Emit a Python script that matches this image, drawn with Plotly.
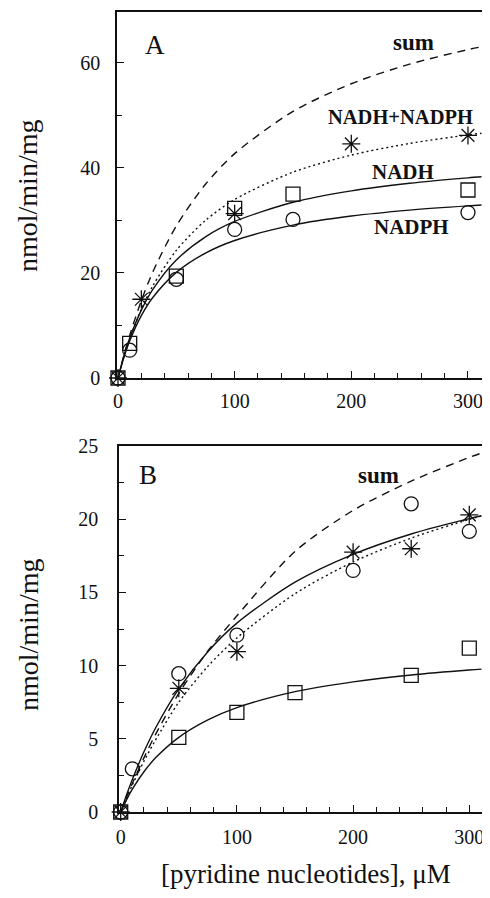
import plotly.graph_objects as go

# ---------------- data: panel A ----------------
a_nadh_x = [0, 10, 50, 100, 150, 300]
a_nadh_y = [0, 6.6, 19.4, 32.3, 35.0, 35.8]
a_nadph_x = [0, 10, 50, 100, 150, 300]
a_nadph_y = [0, 5.3, 18.8, 28.3, 30.2, 31.5]
a_both_x = [0, 20, 100, 200, 300]
a_both_y = [0, 15.0, 31.3, 44.6, 46.2]

curve_x = [0, 5, 10, 20, 30, 50, 75, 100, 150, 200, 250, 300, 320]
a_nadh_fit = [0, 4.13, 7.56, 12.92, 16.91, 22.46, 26.88, 29.81, 33.46, 35.64, 37.09, 38.12, 38.46]
a_nadph_fit = [0, 3.89, 7.05, 11.87, 15.37, 20.12, 23.79, 26.19, 29.11, 30.84, 31.97, 32.78, 33.04]
a_both_fit = [0, 3.97, 7.41, 13.11, 17.62, 24.31, 30.01, 34.0, 39.2, 42.45, 44.67, 46.29, 46.81]
a_sum_fit = [0, 4.26, 8.1, 14.73, 20.27, 28.97, 36.89, 42.73, 50.77, 56.04, 59.77, 62.54, 63.45]

# ---------------- data: panel B ----------------
b_circ_x = [0, 10, 50, 100, 200, 250, 300]
b_circ_y = [0, 2.95, 9.45, 12.08, 16.5, 21.05, 19.17]
b_star_x = [0, 50, 100, 200, 250, 300]
b_star_y = [0, 8.45, 10.95, 17.75, 17.98, 20.3]
b_sq_x = [0, 50, 100, 150, 250, 300]
b_sq_y = [0, 5.1, 6.8, 8.15, 9.33, 11.2]

b_circ_fit = [0, 1.16, 2.22, 4.11, 5.74, 8.41, 10.95, 12.9, 15.7, 17.6, 18.99, 20.04, 20.39]
b_star_fit = [0, 0.95, 1.84, 3.47, 4.92, 7.5, 9.95, 11.89, 14.91, 17.08, 18.71, 19.99, 20.42]
b_sum_fit = [0, 1.0, 1.95, 3.7, 5.3, 8.1, 11.0, 13.4, 17.8, 20.6, 22.6, 24.22, 24.78]
b_sq_fit = [0, 0.83, 1.56, 2.75, 3.70, 5.10, 6.29, 7.13, 8.22, 8.89, 9.36, 9.70, 9.81]

a_ticks = [0, 20, 40, 60]
b_ticks = [0, 5, 10, 15, 20, 25]
x_ticks = [0, 100, 200, 300]

FONT = "Liberation Serif"
BLACK = "#111111"
OFF = 8  # page body margin offset
W, H = 490 - OFF, 898 - 2 * OFF


def px(p):
    return (p - OFF) / W


def py(p):
    return 1 - (p - OFF) / H


fig = go.Figure()


def curve(x, y, xa, ya, dash):
    fig.add_trace(go.Scatter(x=x, y=y, mode="lines", xaxis=xa, yaxis=ya,
                             line=dict(color=BLACK, width=1.4, dash=dash, shape="spline", smoothing=0.8),
                             cliponaxis=True, showlegend=False, hoverinfo="skip"))


def pts(x, y, xa, ya, symbol, size):
    fig.add_trace(go.Scatter(x=x, y=y, mode="markers", xaxis=xa, yaxis=ya,
                             marker=dict(symbol=symbol, size=size, color=BLACK,
                                         line=dict(color=BLACK, width=1.3)),
                             cliponaxis=False, showlegend=False))


# panel A
curve(curve_x, a_sum_fit, "x", "y", "8px,6px")
curve(curve_x, a_both_fit, "x", "y", "2px,3px")
curve(curve_x, a_nadh_fit, "x", "y", "solid")
curve(curve_x, a_nadph_fit, "x", "y", "solid")
pts(a_nadh_x, a_nadh_y, "x", "y", "square-open", 14)
pts(a_nadph_x, a_nadph_y, "x", "y", "circle-open", 14)
pts(a_both_x, a_both_y, "x", "y", "asterisk-open", 15)

# panel B
curve(curve_x, b_sum_fit, "x2", "y2", "8px,6px")
curve(curve_x, b_star_fit, "x2", "y2", "2px,3px")
curve(curve_x, b_circ_fit, "x2", "y2", "solid")
curve(curve_x, b_sq_fit, "x2", "y2", "solid")
pts(b_sq_x, b_sq_y, "x2", "y2", "square-open", 14)
pts(b_circ_x, b_circ_y, "x2", "y2", "circle-open", 14)
pts(b_star_x, b_star_y, "x2", "y2", "asterisk-open", 15)

axis_common = dict(showline=True, linecolor=BLACK, linewidth=1.5, mirror=True,
                   ticks="inside", ticklen=7, tickwidth=1.2, tickcolor=BLACK,
                   showgrid=False, zeroline=False, automargin=False,
                   tickfont=dict(family=FONT, size=20, color=BLACK))

fig.update_layout(
    width=W, height=H, margin=dict(l=0, r=0, t=0, b=0, pad=0, autoexpand=False),
    paper_bgcolor="white", plot_bgcolor="white", showlegend=False,
    xaxis=dict(axis_common, domain=[px(117), px(481.5)], range=[-0.86, 311.6], anchor="y",
               tickvals=x_ticks, ticklabelstandoff=4,
               minor=dict(dtick=20, ticklen=5, ticks="inside", tickcolor=BLACK, tickwidth=1)),
    yaxis=dict(axis_common, domain=[py(378), py(12)], range=[0, 69.7], anchor="x",
               tickvals=a_ticks, ticklabelstandoff=11,
               minor=dict(dtick=10, ticklen=5, ticks="inside", tickcolor=BLACK, tickwidth=1)),
    xaxis2=dict(axis_common, domain=[px(119), px(481.5)], range=[-1.46, 310.5], anchor="y2",
                tickvals=x_ticks, ticklabelstandoff=6,
                minor=dict(dtick=20, ticklen=5, ticks="inside", tickcolor=BLACK, tickwidth=1)),
    yaxis2=dict(axis_common, domain=[py(812), py(446)], range=[0, 25], anchor="x2",
                tickvals=b_ticks, ticklabelstandoff=15,
                minor=dict(dtick=2.5, ticklen=5, ticks="inside", tickcolor=BLACK, tickwidth=1)),
)


def lab(text, x, y, xref, yref, size, bold=False, angle=0):
    fig.add_annotation(text=f"<b>{text}</b>" if bold else text, x=x, y=y, xref=xref, yref=yref,
                       xanchor="center", yanchor="middle", textangle=angle,
                       showarrow=False, font=dict(family=FONT, size=size, color=BLACK))


lab("A", 32, 63.4, "x", "y", 27)
lab("sum", 253, 63.8, "x", "y", 23, True)
lab("NADH+NADPH", 242, 49.7, "x", "y", 20.5, True)
lab("NADH", 244.5, 39.2, "x", "y", 21, True)
lab("NADPH", 252, 28.8, "x", "y", 21, True)
lab("B", 23.5, 23.0, "x2", "y2", 27)
lab("sum", 221.5, 23.0, "x2", "y2", 23, True)

for yc in (196, 635):
    lab("nmol/min/mg", px(28), py(yc), "paper", "paper", 28, angle=-90)
lab("[pyridine nucleotides], μM", px(306), py(874), "paper", "paper", 27)

fig.write_html("out.html")
